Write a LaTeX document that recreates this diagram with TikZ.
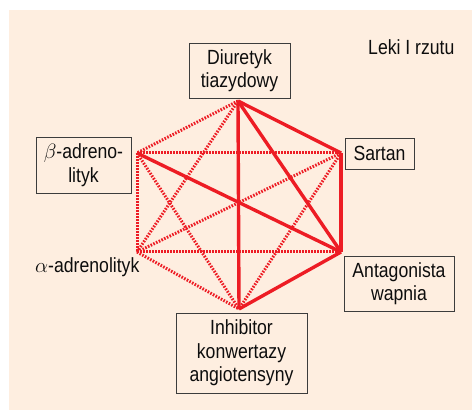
\documentclass[tikz,border=0pt]{standalone}
\usepackage{fontspec}
\setmainfont[FakeStretch=0.86]{Liberation Sans}
\usepackage{tikz}
\definecolor{tlo}{RGB}{254,238,224}
\definecolor{czerwony}{RGB}{237,28,36}
\definecolor{ramka}{RGB}{60,60,60}
\tikzset{
	lek/.style={draw=ramka, line width=0.9pt, fill=tlo, align=center, inner sep=0pt, text=black!95},
	pelna/.style={line width=3.4pt, color=czerwony},
	kropki/.style={line width=3pt, color=czerwony, dash pattern=on 1.6pt off 1.4pt}
}

\begin{document}
\begin{tikzpicture}[x=1pt, y=-1pt, font=\fontsize{20.5}{23.5}\selectfont]
		%%%%% START %%%%%
		\useasboundingbox (0, 0) rectangle (472, 411);
		\fill[tlo] (9, 10) rectangle (472, 410);
		
		\coordinate (d) at (238, 101);
		\coordinate (b) at (137, 153);
		\coordinate (s) at (341, 153);
		\coordinate (a) at (137, 252);
		\coordinate (w) at (341, 252);
		\coordinate (i) at (239, 309);
		
		\draw[kropki] (d) -- (b);
		\draw[kropki] (d) -- (a);
		\draw[kropki] (b) -- (s);
		\draw[kropki] (b) -- (a);
		\draw[kropki] (b) -- (i);
		\draw[kropki] (s) -- (a);
		\draw[kropki] (s) -- (i);
		\draw[kropki] (a) -- (w);
		\draw[kropki] (a) -- (i);
		
		\draw[pelna] (d) -- (s);
		\draw[pelna] (d) -- (w);
		\draw[pelna] (d) -- (i);
		\draw[pelna] (b) -- (w);
		\draw[pelna] (s) -- (w);
		\draw[pelna] (w) -- (i);
		
		\node[lek, minimum width=101, minimum height=55] (diuretyk) at (239.5, 70.5) {Diuretyk\\tiazydowy};
		\node[lek, minimum width=69, minimum height=31] (sartan) at (379.5, 153.5) {Sartan};
		\node[lek, minimum width=95, minimum height=56] (beta) at (83.5, 165) {$\beta$-adreno-\\lityk};
		\node[lek, minimum width=110, minimum height=55] (antagonista) at (399, 283.5) {Antagonista\\wapnia};
		\node[lek, minimum width=131, minimum height=80] (inhibitor) at (241.5, 353) {Inhibitor\\konwertazy\\angiotensyny};
		\node[anchor=west, inner sep=0pt, text=black!95] (alfa) at (35, 267) {$\alpha$-adrenolityk};
		
		\node[anchor=west, inner sep=0pt, text=black!95] (rzut) at (368, 47) {Leki I rzutu};
		%%%%% END %%%%%
\end{tikzpicture}
\end{document}
